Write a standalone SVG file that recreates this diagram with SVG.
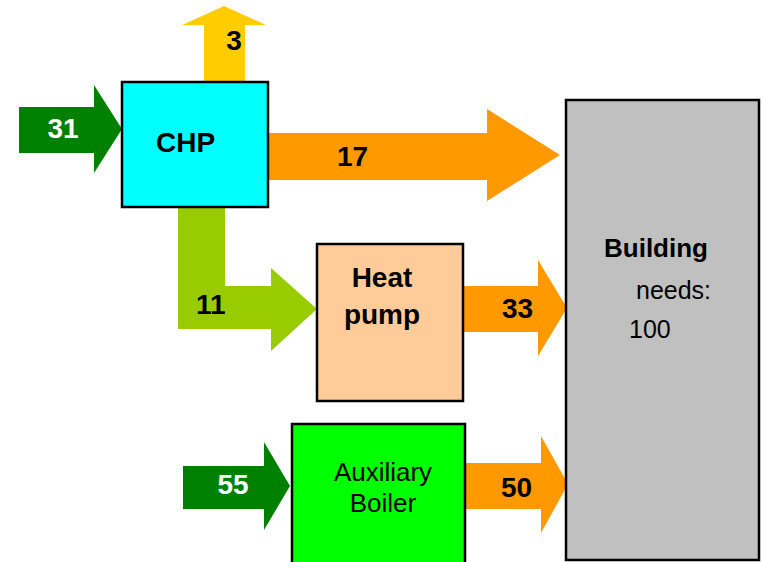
<svg xmlns="http://www.w3.org/2000/svg" width="763" height="562" viewBox="0 0 763 562">
<style>
.box{stroke:#000;stroke-width:2.5}
.b{font-family:"Liberation Sans",Arial,sans-serif;font-weight:bold}
.r{font-family:"Liberation Sans",Arial,sans-serif}
.num{font-size:28px}
</style>
<rect width="763" height="562" fill="#fff"/>
<g id="connectors">
  <polygon id="a3" fill="#FFCC00" points="204,82 204,25 182,25 224,6 266,25 245,25 245,82"/>
  <polygon id="a31" fill="#008000" points="19,107 94,107 94,85 122,129 94,173 94,153 19,153"/>
  <polygon id="a17" fill="#FF9900" points="268,133 487,133 487,109 560,155 487,201 487,180 268,180"/>
  <polygon id="a11" fill="#99CC00" points="178,207 225,207 225,286 271,286 271,268 317,309 271,351 271,329 178,329"/>
  <polygon id="a33" fill="#FF9900" points="463,286 538,286 538,260 567,308 538,356 538,332 463,332"/>
  <polygon id="a55" fill="#008000" points="183,466 264,466 264,442 290,486 264,530 264,509 183,509"/>
  <polygon id="a50" fill="#FF9900" points="465,463 541,463 541,436 568,484 541,533 541,509 465,509"/>
  <text class="b num" x="234" y="50" text-anchor="middle">3</text>
  <text class="b num" x="63" y="138" text-anchor="middle" fill="#fff">31</text>
  <text class="b num" x="337" y="166">17</text>
  <text class="b num" x="196" y="314">11</text>
  <text class="b num" x="502" y="318">33</text>
  <text class="b num" x="233" y="494" text-anchor="middle" fill="#fff">55</text>
  <text class="b num" x="501" y="497">50</text>
</g>
<g id="chp">
  <rect class="box" x="122" y="82" width="146" height="125" fill="#00FFFF"/>
  <text class="b" x="156" y="152" font-size="28">CHP</text>
</g>
<g id="heatpump">
  <rect class="box" x="317" y="244" width="146" height="157" fill="#FFCC99"/>
  <text class="b" x="382" y="287" font-size="28" text-anchor="middle">Heat</text>
  <text class="b" x="382" y="324" font-size="28" text-anchor="middle">pump</text>
</g>
<g id="boiler">
  <rect class="box" x="292" y="424" width="173" height="150" fill="#00FF00"/>
  <text class="r" x="383" y="481" font-size="26" text-anchor="middle">Auxiliary</text>
  <text class="r" x="383" y="512" font-size="26" text-anchor="middle">Boiler</text>
</g>
<g id="building">
  <rect class="box" x="566" y="100" width="193" height="460" fill="#C0C0C0"/>
  <text class="b" x="604" y="257" font-size="26">Building</text>
  <text class="r" x="636" y="299" font-size="25">needs:</text>
  <text class="r" x="629" y="338" font-size="25">100</text>
</g>
</svg>
